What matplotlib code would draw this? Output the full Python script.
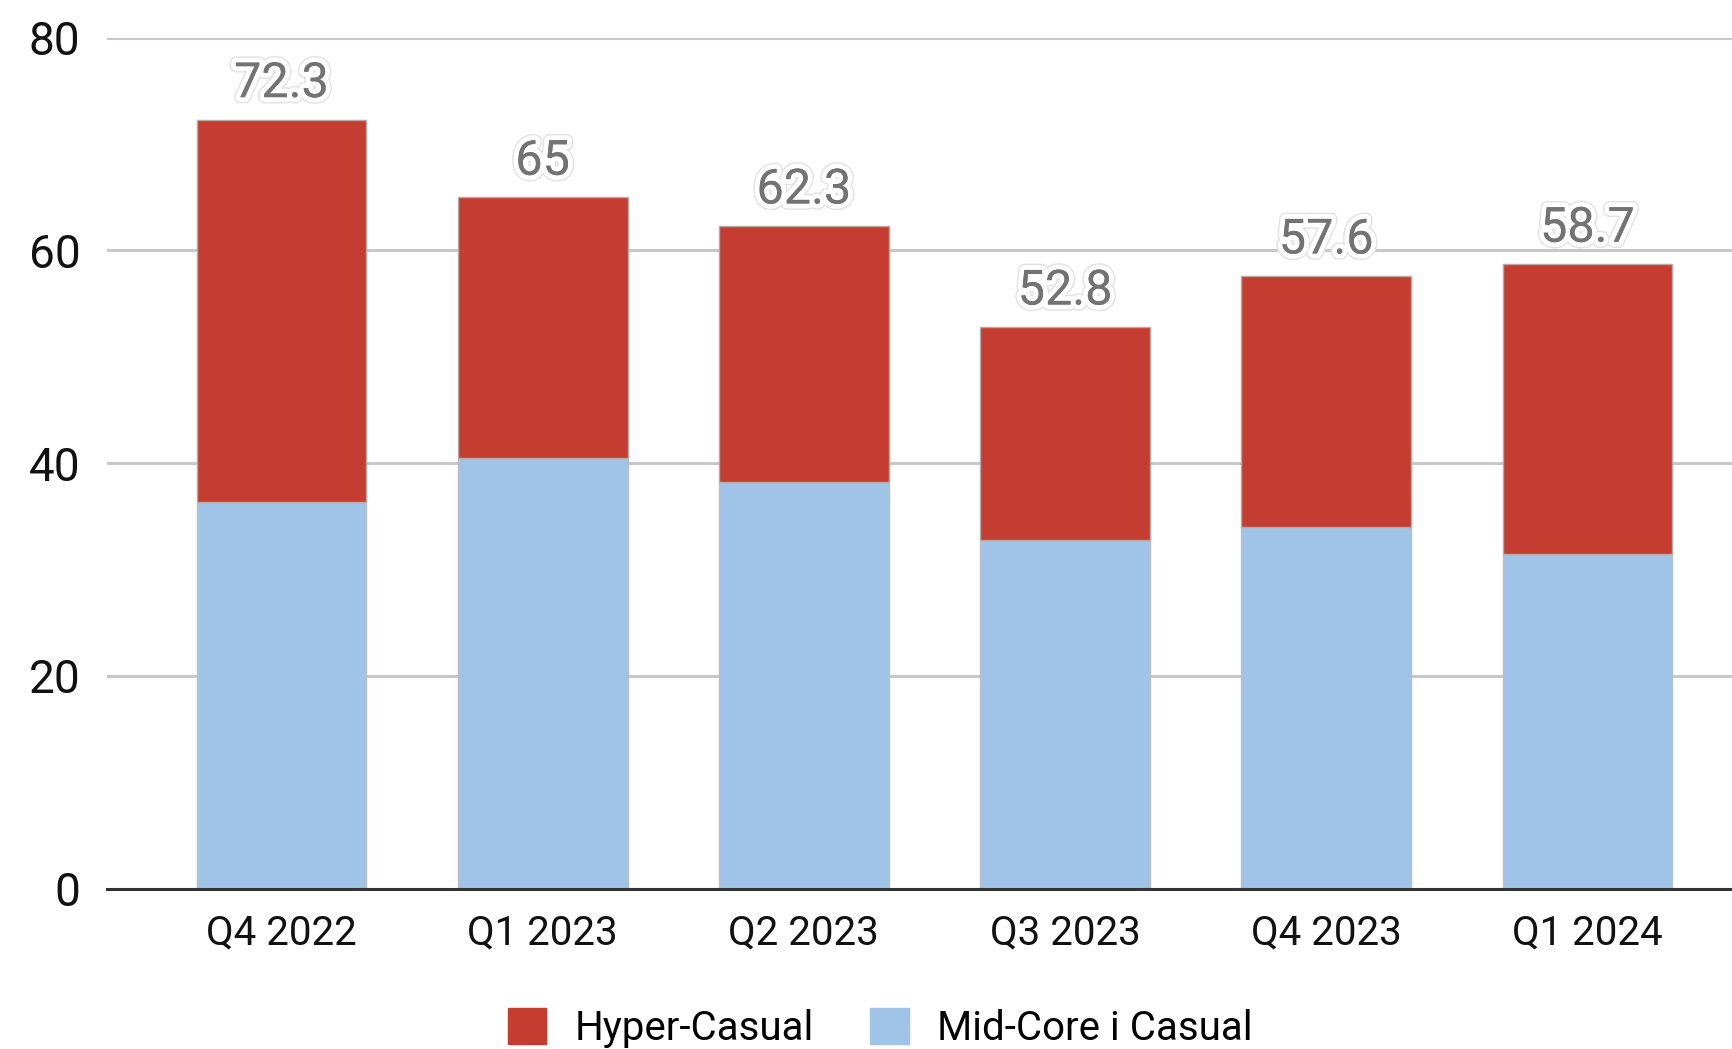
import matplotlib
matplotlib.use("Agg")
import matplotlib.pyplot as plt
import matplotlib.patheffects as pe
from matplotlib.patches import Patch
import numpy as np

# quarterly revenue split by segment
quarters = ["Q4 2022", "Q1 2023", "Q2 2023", "Q3 2023", "Q4 2023", "Q1 2024"]
midcore_casual = [36.3, 40.5, 38.2, 32.8, 34.0, 31.5]
hyper_casual = [36.0, 24.5, 24.1, 20.0, 23.6, 27.2]
totals = [72.3, 65, 62.3, 52.8, 57.6, 58.7]
total_labels = ["72.3", "65", "62.3", "52.8", "57.6", "58.7"]

RED = "#c53c31"
BLUE = "#9fc4e7"

plt.rcParams["font.family"] = ["Roboto", "DejaVu Sans"]

fig = plt.figure(figsize=(17.33, 10.49), dpi=100)
ax = fig.add_axes([0.0617, 0.153, 0.9383, 0.811])

x = np.arange(len(quarters))
width = 0.65

ax.bar(x, midcore_casual, width, color=BLUE, edgecolor="#b8bfc7", linewidth=1.0, zorder=3)
ax.bar(x, hyper_casual, width, bottom=midcore_casual, color=RED,
       edgecolor="#b8a8a6", linewidth=1.0, zorder=3)

# totals on top of each stack
for xi, tot, lab in zip(x, totals, total_labels):
    ax.annotate(lab, (xi, tot), xytext=(0, 9), textcoords="offset points",
                ha="center", va="bottom", fontsize=35, color="#737373", zorder=5,
                path_effects=[pe.withStroke(linewidth=9, foreground="#e2e2e2"),
                              pe.withStroke(linewidth=7, foreground="white"),
                              pe.Normal()])

ax.set_xlim(-0.668, 5.557)
ax.set_ylim(0, 80)
ax.set_yticks([0, 20, 40, 60, 80])
ax.set_xticks(x)
ax.set_xticklabels(quarters)

ax.yaxis.grid(True, color="#c8c8c8", linewidth=2.2, zorder=0)
ax.set_axisbelow(True)
for side in ["top", "right", "left"]:
    ax.spines[side].set_visible(False)
ax.spines["bottom"].set_color("#333333")
ax.spines["bottom"].set_linewidth(2.2)
ax.spines["bottom"].set_zorder(4)

ax.tick_params(axis="y", length=0, pad=19, labelsize=33, labelcolor="#111111")
ax.tick_params(axis="x", length=0, pad=18, labelsize=29, labelcolor="#111111")

handles = [Patch(facecolor=RED, edgecolor=RED), Patch(facecolor=BLUE, edgecolor=BLUE)]
fig.legend(handles, ["Hyper-Casual", "Mid-Core i Casual"], loc="center",
           bbox_to_anchor=(0.508, 0.02), ncol=2, frameon=False, fontsize=29,
           handlelength=0.95, handleheight=1.0, handletextpad=0.7, columnspacing=1.4)

fig.savefig("out.png", dpi=100, facecolor="white")
